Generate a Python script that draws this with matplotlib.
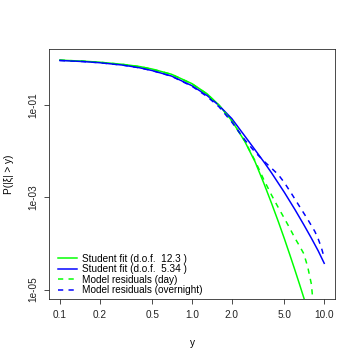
import matplotlib

matplotlib.use("Agg")

import matplotlib.pyplot as plt

plt.rcParams["font.family"] = ["Liberation Sans", "DejaVu Sans"]
plt.rcParams["font.size"] = 10

# Student fit, day (d.o.f. 12.3)
x_fit_day = [0.1, 0.15, 0.2, 0.3, 0.4, 0.5, 0.7, 1.0, 1.3, 1.6, 2.0, 2.5, 3.0, 3.5,
             4.0, 4.5, 5.0, 5.5, 6.0, 6.5, 7.0, 7.5]
p_fit_day = [0.92, 0.875, 0.83, 0.745, 0.67, 0.59, 0.455, 0.285, 0.172, 0.098, 0.045,
             0.0163, 0.0058, 1.97e-3, 7.3e-4, 2.93e-4, 1.25e-4, 5.6e-5, 2.65e-5,
             1.31e-5, 6.7e-6, 3.6e-6]

# Student fit, overnight (d.o.f. 5.34)
x_fit_night = [0.1, 0.15, 0.2, 0.3, 0.4, 0.5, 0.7, 1.0, 1.3, 1.6, 2.0, 2.5, 3.0, 3.5,
               4.0, 5.0, 6.0, 7.0, 8.0, 9.0, 10.0]
p_fit_night = [0.905, 0.857, 0.809, 0.718, 0.63, 0.547, 0.416, 0.257, 0.158, 0.096,
               0.050, 0.0212, 0.0105, 5.75e-3, 3.33e-3, 1.26e-3, 5.4e-4, 2.54e-4,
               1.29e-4, 6.9e-5, 3.7e-5]

# empirical residuals, day
x_res_day = [0.1, 0.15, 0.2, 0.3, 0.4, 0.5, 0.7, 1.0, 1.3, 1.6, 2.0, 2.5, 3.0, 3.5,
             4.0, 4.5, 5.0, 5.5, 6.0, 6.5, 7.0, 7.5, 8.0, 8.3]
p_res_day = [0.918, 0.872, 0.828, 0.742, 0.668, 0.588, 0.452, 0.282, 0.170, 0.097,
             0.0445, 0.0165, 0.0061, 2.35e-3, 1.1e-3, 5.9e-4, 3.45e-4, 2.1e-4, 1.3e-4,
             8.8e-5, 6.0e-5, 3.1e-5, 1.3e-5, 4.0e-6]

# empirical residuals, overnight
x_res_night = [0.1, 0.15, 0.2, 0.3, 0.4, 0.5, 0.7, 1.0, 1.3, 1.6, 2.0, 2.5, 3.0, 3.5,
               4.0, 4.5, 5.0, 5.7, 6.5, 7.5, 8.5, 9.0, 9.5, 9.9]
p_res_night = [0.905, 0.857, 0.808, 0.716, 0.628, 0.545, 0.412, 0.250, 0.150, 0.090,
               0.042, 0.0175, 0.0094, 0.0060, 0.0042, 3.05e-3, 2.05e-3, 1.15e-3, 6.3e-4,
               3.3e-4, 1.8e-4, 1.25e-4, 8.2e-5, 5.4e-5]

x_ticks = [0.1, 0.2, 0.5, 1.0, 2.0, 5.0, 10.0]
x_tick_labels = ["0.1", "0.2", "0.5", "1.0", "2.0", "5.0", "10.0"]
y_ticks = [1e-1, 1e-3, 1e-5]
y_tick_labels = ["1e-01", "1e-03", "1e-05"]

GREEN = "#00FF00"
BLUE = "#0000FF"
DASH = (0, (3.5, 3.5))
LW = 1.5


def main() -> None:
    fig = plt.figure(figsize=(5, 5), dpi=72)
    ax = fig.add_axes([0.1367, 0.17, 0.7933, 0.6933])

    ax.plot(x_fit_day, p_fit_day, color=GREEN, lw=LW,
            label="Student fit (d.o.f.  12.3 )")
    ax.plot(x_fit_night, p_fit_night, color=BLUE, lw=LW,
            label="Student fit (d.o.f.  5.34 )")
    ax.plot(x_res_day, p_res_day, color=GREEN, lw=LW, linestyle=DASH,
            label="Model residuals (day)")
    ax.plot(x_res_night, p_res_night, color=BLUE, lw=LW, linestyle=DASH,
            label="Model residuals (overnight)")

    ax.set_xscale("log")
    ax.set_yscale("log")
    ax.set_xlim(10 ** -1.08, 10 ** 1.08)
    ax.set_ylim(10 ** -5.2, 10 ** 0.2)

    ax.set_xticks(x_ticks)
    ax.set_xticklabels(x_tick_labels)
    ax.set_yticks(y_ticks)
    ax.set_yticklabels(y_tick_labels, rotation=90, va="center")
    ax.minorticks_off()
    ax.tick_params(direction="out", length=5, width=0.8, colors="#222222", pad=6)
    for spine in ax.spines.values():
        spine.set_color("#222222")
        spine.set_linewidth(0.8)

    ax.set_xlabel("y", labelpad=18)
    ax.set_ylabel("P(|ξ| > y)", labelpad=14)

    ax.legend(loc="lower left", frameon=False, handlelength=1.9, handletextpad=0.5,
              labelspacing=0.05, borderaxespad=0, borderpad=0.35,
              bbox_to_anchor=(0.02, 0.0))

    fig.savefig("out.png", dpi=72)
    plt.close(fig)


if __name__ == "__main__":
    main()
